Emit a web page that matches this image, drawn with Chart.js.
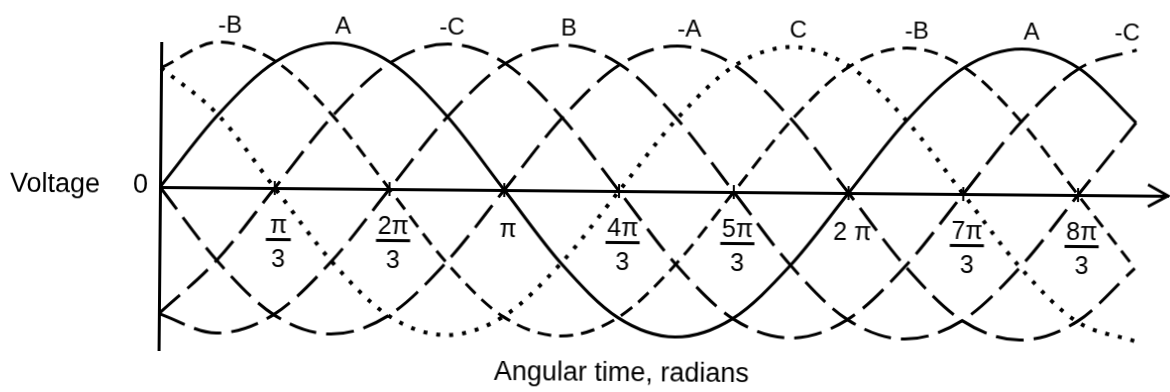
<!DOCTYPE html>
<html lang="en">
<head>
    <meta charset="UTF-8">
    <title>Three-phase voltages</title>
    <script src="https://cdn.jsdelivr.net/npm/chart.js"></script>
    <style>
        html, body { margin: 0; padding: 0; background: #fff; overflow: hidden; }
        /* the scanned figure is turned a little clockwise */
        #wrap { width: 1170px; height: 392px; transform: rotate(0.5deg); transform-origin: 160px 187px; }
    </style>
</head>
<body>
    <div id="wrap"><canvas id="phaseChart" width="1170" height="392"></canvas></div>

    <script>
        // angular time in degrees (every pi/6)
        var angles = [0, 30, 60, 90, 120, 150, 180, 210, 240, 270, 300, 330, 360, 390, 420, 450, 480, 510];

        // voltages (peak = 1)
        var phaseA    = [0, 0.5, 0.87, 1, 0.87, 0.5, 0, -0.5, -0.87, -1, -0.87, -0.5, 0, 0.5, 0.87, 1, 0.87, 0.5];
        var phaseB    = [-0.87, -1, -0.87, -0.5, 0, 0.5, 0.87, 1, 0.87, 0.5, 0, -0.5, -0.87, -1, -0.87, -0.5, 0, 0.5];
        var phaseC    = [0.82, 0.5, 0, -0.5, -0.87, -1, -0.87, -0.5, 0, 0.5, 0.87, 1, 0.87, 0.5, 0, -0.5, -0.87, -1];
        var phaseNegA = [0, -0.5, -0.87, -1, -0.87, -0.5, 0, 0.5, 0.87, 1, 0.87, 0.5, 0, -0.5, -0.87, -1, -0.87, -0.5];
        var phaseNegB = [0.82, 1, 0.87, 0.5, 0, -0.5, -0.87, -1, -0.87, -0.5, 0, 0.5, 0.87, 1, 0.87, 0.5, 0, -0.5];
        var phaseNegC = [-0.87, -0.5, 0, 0.5, 0.87, 1, 0.87, 0.5, 0, -0.5, -0.87, -1, -0.87, -0.5, 0, 0.5, 0.87, 1];

        // axis ticks (multiples of pi/3) and their labels [numerator, denominator]
        var tickAngles = [60, 120, 180, 240, 300, 360, 420, 480];
        var tickLabels = [['π', '3'], ['2π', '3'], ['π'], ['4π', '3'], ['5π', '3'], ['2 π'], ['7π', '3'], ['8π', '3']];

        // curve names written above the peaks
        var peakNames  = ['-B', 'A', '-C', 'B', '-A', 'C', '-B', 'A', '-C'];
        var peakAngles = [36, 95, 152, 213, 276, 333, 395, 455, 505];

        function pts(values) {
            return angles.map(function (a, i) { return { x: a, y: values[i] }; });
        }

        function curve(label, values, dash, width) {
            return {
                label: label,
                data: pts(values),
                borderColor: '#000',
                borderWidth: width || 3,
                borderDash: dash,
                pointRadius: 0,
                fill: false,
                cubicInterpolationMode: 'monotone',
                clip: false
            };
        }

        var FONT = '"Liberation Sans", Arial, Helvetica, sans-serif';

        // arrow, tick marks and all the lettering
        var overlay = {
            id: 'overlay',
            afterDraw: function (chart) {
                var ctx = chart.ctx;
                var xs = chart.scales.x, ys = chart.scales.y;
                var y0 = ys.getPixelForValue(0);
                var right = chart.chartArea.right;
                ctx.save();
                ctx.strokeStyle = '#000';
                ctx.fillStyle = '#000';

                // arrow head
                ctx.lineWidth = 3;
                ctx.beginPath();
                ctx.moveTo(right - 20, y0 - 11);
                ctx.lineTo(right, y0);
                ctx.lineTo(right - 20, y0 + 11);
                ctx.stroke();

                // tick marks
                ctx.lineWidth = 2;
                tickAngles.forEach(function (a) {
                    var px = xs.getPixelForValue(a);
                    ctx.beginPath();
                    ctx.moveTo(px, y0 - 7);
                    ctx.lineTo(px, y0 + 7);
                    ctx.stroke();
                });

                // fraction labels
                ctx.textAlign = 'center';
                ctx.textBaseline = 'alphabetic';
                ctx.font = '25px ' + FONT;
                tickLabels.forEach(function (lab, i) {
                    var px = xs.getPixelForValue(tickAngles[i]) + 4;
                    if (lab.length === 1) {
                        ctx.fillText(lab[0], px, y0 + 47);
                        return;
                    }
                    ctx.fillText(lab[0], px, y0 + 45);
                    var w = Math.max(ctx.measureText(lab[0]).width, 22) + 3;
                    ctx.fillRect(px - w / 2, y0 + 50, w, 3);
                    ctx.fillText(lab[1], px, y0 + 79);
                });

                // curve names
                ctx.font = '24px ' + FONT;
                peakNames.forEach(function (n, i) {
                    ctx.fillText(n, xs.getPixelForValue(peakAngles[i]), 32);
                });

                // axis titles
                ctx.font = '27px ' + FONT;
                ctx.textAlign = 'left';
                ctx.fillText('Voltage', 10, y0 + 6);
                ctx.textAlign = 'right';
                ctx.fillText('0', 148, y0 + 6);
                ctx.textAlign = 'center';
                ctx.fillText('Angular time, radians', 623, 377);
                ctx.restore();
            }
        };

        var LONG = [28, 10];
        var MEDIUM = [14, 8];
        var DOTS = [4, 9];

        var phaseChart = new Chart(document.getElementById('phaseChart'), {
            type: 'line',
            data: {
                datasets: [
                    curve('A', phaseA, []),
                    curve('B', phaseB, LONG),
                    curve('C', phaseC, DOTS, 4),
                    curve('-A', phaseNegA, LONG),
                    curve('-B', phaseNegB, MEDIUM),
                    curve('-C', phaseNegC, LONG)
                ]
            },
            options: {
                responsive: false,
                animation: false,
                devicePixelRatio: 1,
                layout: { padding: { left: 160, right: 2, top: 43, bottom: 42 } },
                plugins: { legend: { display: false }, tooltip: { enabled: false } },
                scales: {
                    x: {
                        type: 'linear',
                        min: 0,
                        max: 527,
                        position: { y: 0 },
                        ticks: { display: false },
                        grid: { display: true, drawOnChartArea: false, drawTicks: false },
                        border: { display: true, width: 3, color: '#000' },
                        afterFit: function (s) { s.height = 0; }
                    },
                    y: {
                        type: 'linear',
                        min: -1.12,
                        max: 0.99,
                        ticks: { display: false },
                        grid: { display: true, drawOnChartArea: false, drawTicks: false },
                        border: { display: true, width: 3, color: '#000' },
                        afterFit: function (s) { s.width = 0; }
                    }
                }
            },
            plugins: [overlay]
        });
    </script>
</body>
</html>
